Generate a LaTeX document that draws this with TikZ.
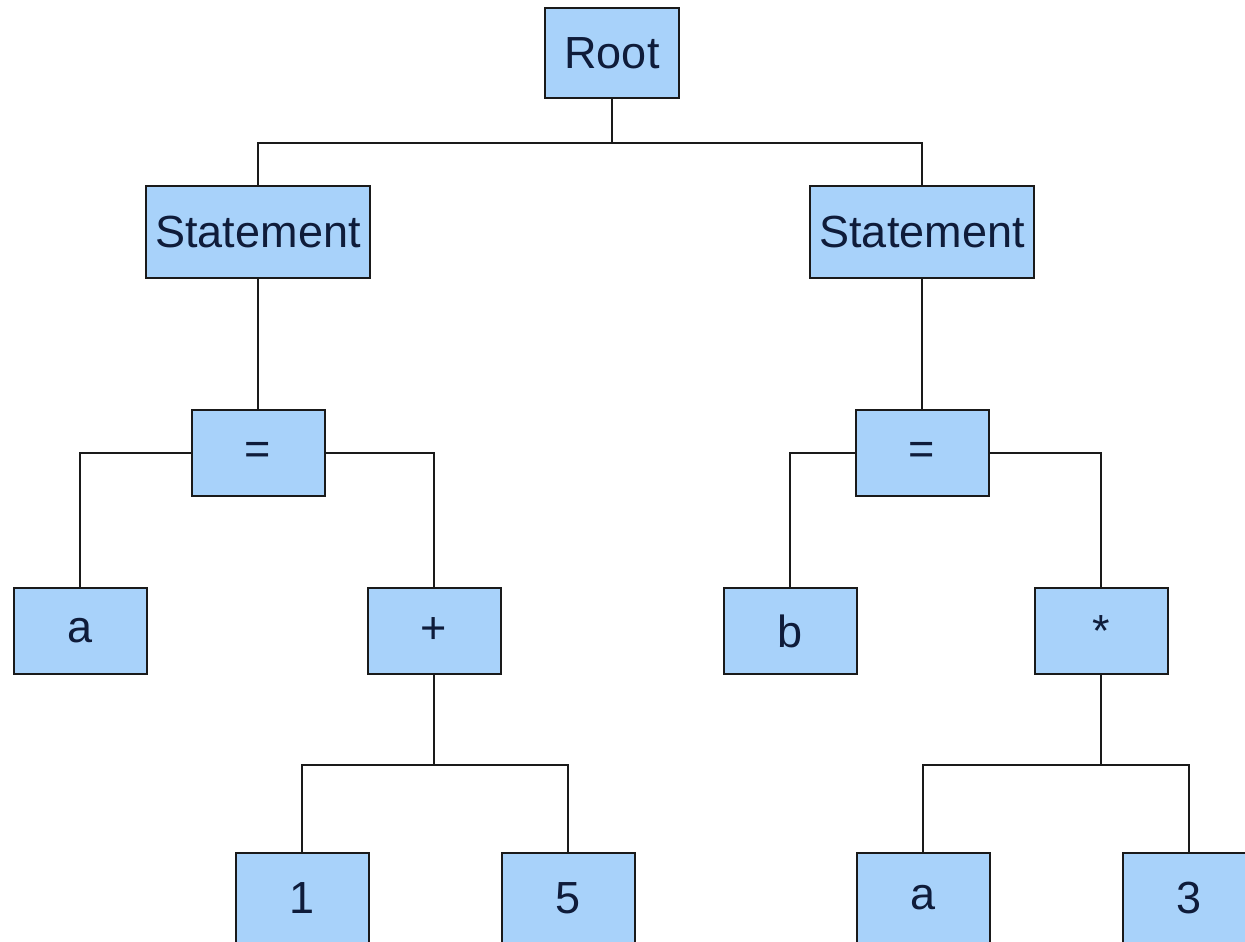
\documentclass[tikz,border=0pt]{standalone}
\usepackage{fontspec}
\setmainfont{Liberation Sans}
\usepackage{tikz}
\usetikzlibrary{positioning}
\definecolor{astfill}{HTML}{A8D2FA}
\definecolor{astink} {HTML}{0F1C3A}
\definecolor{astline}{HTML}{1A1A1A}
\tikzset{
  astnode/.style={draw=astline, fill=astfill, line width=1pt, inner sep=0pt,
                  text=astink, font=\fontsize{22.5}{27}\selectfont,
                  minimum width=66.5pt, minimum height=43pt},
  astroot/.style={astnode, minimum width=67pt, minimum height=45pt},
  aststmt/.style={astnode, minimum width=112pt, minimum height=46pt},
  astleaf/.style={astnode, minimum height=45pt},
  astedge/.style={draw=astline, line width=1pt},
}
\begin{document}
\begin{tikzpicture}[x=0.5pt, y=-0.5pt]
  \path[use as bounding box, fill=white] (0,0) rectangle (1245,941);

  \node[astroot] (root)  at (612,53)  {Root};
  \node[aststmt] (stmtL) at (258,232) {Statement};
  \node[aststmt] (stmtR) at (922,232) {Statement};
  \node[astnode] (eqL)   at (258,453) {=};
  \node[astnode] (eqR)   at (922,453) {=};
  \node[astnode] (varA)  at (80,631)  {a};
  \node[astnode] (plus)  at (434,631) {+};
  \node[astnode] (varB)  at (790,631) {b};
  \node[astnode] (times) at (1101,631) {*};
  \node[astleaf] (one)   at (302,898) {1};
  \node[astleaf] (five)  at (568,898) {5};
  \node[astleaf] (varA2) at (923,898) {a};
  \node[astleaf] (three) at (1189,898) {3};

  \draw[astedge] (root.south) -- ++(0,44) -| (stmtL.north);
  \draw[astedge] (root.south) -- ++(0,44) -| (stmtR.north);
  \draw[astedge] (stmtL) -- (eqL);
  \draw[astedge] (stmtR) -- (eqR);
  \draw[astedge] (eqL.west) -| (varA.north);
  \draw[astedge] (eqL.east) -| (plus.north);
  \draw[astedge] (eqR.west) -| (varB.north);
  \draw[astedge] (eqR.east) -| (times.north);
  \draw[astedge] (plus.south) -- ++(0,90) -| (one.north);
  \draw[astedge] (plus.south) -- ++(0,90) -| (five.north);
  \draw[astedge] (times.south) -- ++(0,90) -| (varA2.north);
  \draw[astedge] (times.south) -- ++(0,90) -| (three.north);
\end{tikzpicture}
\end{document}
